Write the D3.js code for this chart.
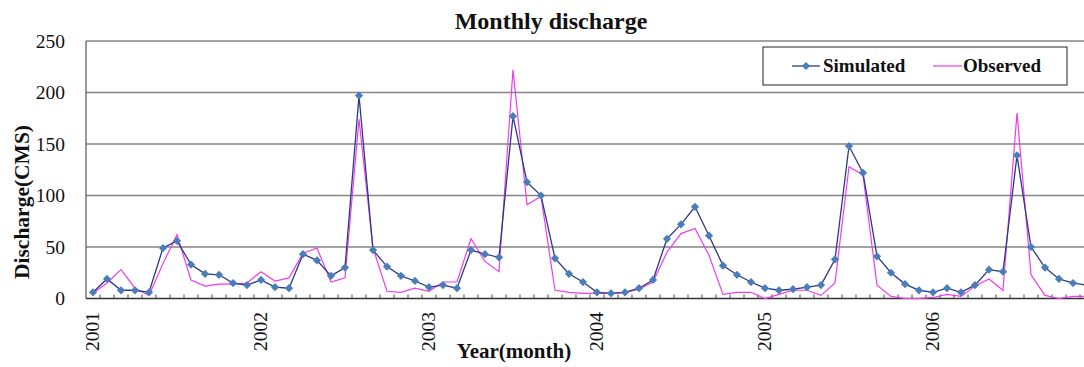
<!DOCTYPE html>
<html>
<head>
<meta charset="utf-8">
<script src="https://cdn.jsdelivr.net/npm/d3@7/dist/d3.min.js"></script>
<style>
  html, body { margin: 0; padding: 0; background: #fff; }
  svg { display: block; font-family: "Liberation Serif", "Times New Roman", serif; }
</style>
</head>
<body>
<svg id="chart" width="1084" height="367"></svg>
<script>
// Monthly discharge, Jan 2001 – Dec 2006 (CMS)
const years = ["2001", "2002", "2003", "2004", "2005", "2006"];
const months = d3.range(72);

const simulated = [
  6, 19, 8, 8, 6, 49, 56, 33, 24, 23, 15, 13,
  18, 11, 10, 43, 37, 22, 30, 197, 47, 31, 22, 17,
  11, 13, 10, 47, 43, 40, 177, 113, 100, 39, 24, 16,
  6, 5, 6, 10, 18, 58, 72, 89, 61, 32, 23, 16,
  10, 8, 9, 11, 13, 38, 148, 122, 41, 25, 14, 8,
  6, 10, 6, 13, 28, 26, 139, 50, 30, 19, 15, 13
];

const observed = [
  5, 15, 28, 10, 3, 34, 62, 18, 12, 14, 14, 15,
  26, 17, 20, 44, 49, 16, 20, 174, 49, 7, 6, 10,
  7, 16, 16, 58, 36, 26, 222, 91, 99, 8, 6, 5,
  5, 5, 6, 9, 16, 45, 63, 68, 42, 4, 6, 6,
  0, 4, 8, 8, 3, 15, 128, 120, 13, 2, 0, 0,
  1, 4, 2, 12, 19, 8, 180, 23, 3, 0, 2, 2
];

const yTicks = [0, 50, 100, 150, 200, 250];

const svg = d3.select("#chart");
const W = 1084, H = 367;
const plotLeft = 86, plotTop = 41, plotBottom = 298.5;
const monthW = 14;

const x = d3.scaleBand().domain(months).range([plotLeft, plotLeft + months.length * monthW]);
const cx = i => x(i) + x.bandwidth() / 2;
const y = d3.scaleLinear().domain([0, 250]).range([plotBottom, plotTop]);

svg.append("defs").append("clipPath").attr("id", "plotClip")
  .append("rect").attr("x", plotLeft - 6).attr("y", 0).attr("width", W - plotLeft + 6).attr("height", H);

// horizontal gridlines
svg.append("g")
  .selectAll("line").data(yTicks.filter(d => d > 0)).join("line")
  .attr("x1", plotLeft).attr("x2", W)
  .attr("y1", d => y(d)).attr("y2", d => y(d))
  .attr("stroke", "#858585").attr("stroke-width", 1.6);

// y axis labels
svg.append("g")
  .selectAll("text").data(yTicks).join("text")
  .attr("x", 65).attr("y", d => y(d)).attr("dy", "0.35em")
  .attr("text-anchor", "end").attr("font-size", 19.5).attr("fill", "#111")
  .text(d => d);

// axis lines
svg.append("line").attr("x1", plotLeft).attr("x2", plotLeft).attr("y1", plotTop).attr("y2", plotBottom)
  .attr("stroke", "#555").attr("stroke-width", 1.2);
svg.append("line").attr("x1", plotLeft).attr("x2", W).attr("y1", plotBottom).attr("y2", plotBottom)
  .attr("stroke", "#333").attr("stroke-width", 1.4);

// month tick marks between categories (inside)
svg.append("g")
  .selectAll("line").data(months.slice(1)).join("line")
  .attr("x1", d => x(d)).attr("x2", d => x(d))
  .attr("y1", plotBottom).attr("y2", plotBottom - 4)
  .attr("stroke", "#444").attr("stroke-width", 1);

// year labels, rotated
svg.append("g")
  .selectAll("text").data(years).join("text")
  .attr("transform", (d, i) => `translate(${cx(i * 12) + 6},312) rotate(-90)`)
  .attr("text-anchor", "end").attr("font-size", 19.5).attr("fill", "#111")
  .text(d => d);

const plot = svg.append("g").attr("clip-path", "url(#plotClip)");

const line = d3.line().x((d, i) => cx(i)).y(d => y(d));

plot.append("path").datum(observed)
  .attr("d", line).attr("fill", "none")
  .attr("stroke", "#f03cf0").attr("stroke-width", 1.2);

plot.append("path").datum(simulated)
  .attr("d", line).attr("fill", "none")
  .attr("stroke", "#2c3a86").attr("stroke-width", 1.3);

const diamond = d3.symbol().type(d3.symbolSquare).size(34);
plot.append("g")
  .selectAll("path").data(simulated).join("path")
  .attr("d", diamond)
  .attr("transform", (d, i) => `translate(${cx(i)},${y(d)}) rotate(45)`)
  .attr("fill", "#4a7ebb");

// titles
svg.append("text").attr("x", 551).attr("y", 29).attr("text-anchor", "middle")
  .attr("font-size", 24).attr("font-weight", "bold").attr("fill", "#111")
  .text("Monthly discharge");

svg.append("text").attr("x", 514).attr("y", 358).attr("text-anchor", "middle")
  .attr("font-size", 21).attr("font-weight", "bold").attr("fill", "#111")
  .text("Year(month)");

svg.append("text").attr("transform", "translate(29,202) rotate(-90)").attr("text-anchor", "middle")
  .attr("font-size", 21.5).attr("font-weight", "bold").attr("fill", "#111")
  .text("Discharge(CMS)");

// legend
const lg = svg.append("g");
lg.append("rect").attr("x", 763).attr("y", 47).attr("width", 304).attr("height", 38)
  .attr("fill", "#fff").attr("stroke", "#222").attr("stroke-width", 1);
lg.append("line").attr("x1", 792).attr("x2", 820).attr("y1", 66).attr("y2", 66)
  .attr("stroke", "#2c3a86").attr("stroke-width", 1.3);
lg.append("path").attr("d", diamond).attr("transform", "translate(806,66) rotate(45)").attr("fill", "#4a7ebb");
lg.append("text").attr("x", 823).attr("y", 72).attr("font-size", 19).attr("font-weight", "bold")
  .attr("fill", "#111").text("Simulated");
lg.append("line").attr("x1", 933).attr("x2", 962).attr("y1", 66).attr("y2", 66)
  .attr("stroke", "#f03cf0").attr("stroke-width", 1.2);
lg.append("text").attr("x", 963).attr("y", 72).attr("font-size", 19).attr("font-weight", "bold")
  .attr("fill", "#111").text("Observed");
</script>
</body>
</html>
